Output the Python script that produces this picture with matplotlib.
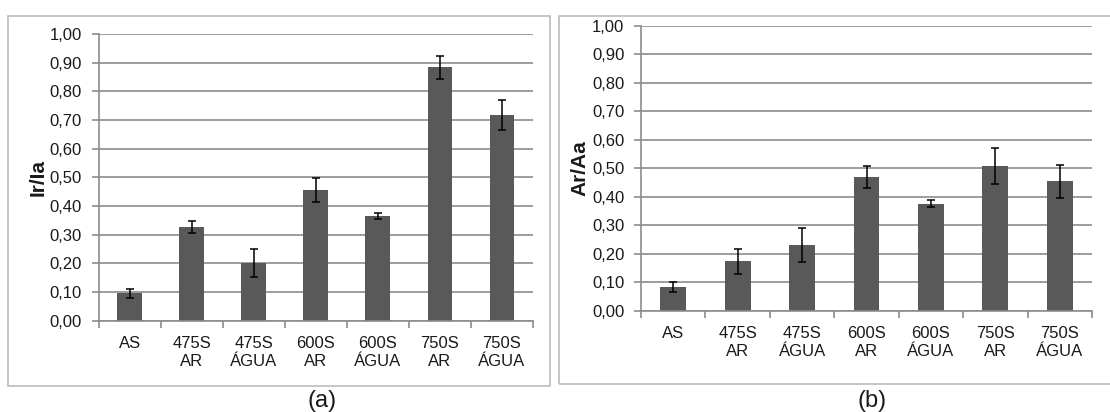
import matplotlib
matplotlib.use("Agg")
from matplotlib import pyplot as plt
from matplotlib.patches import Rectangle
from matplotlib.ticker import FuncFormatter, MultipleLocator

plt.rcParams['font.family'] = ['Liberation Sans', 'DejaVu Sans']

categories = ["AS", "475S\nAR", "475S\nÁGUA", "600S\nAR", "600S\nÁGUA", "750S\nAR", "750S\nÁGUA"]

ir_ia = [0.095, 0.328, 0.202, 0.455, 0.364, 0.884, 0.718]
ir_ia_err = [0.016, 0.021, 0.048, 0.041, 0.010, 0.040, 0.052]

ar_aa = [0.082, 0.173, 0.232, 0.471, 0.376, 0.508, 0.454]
ar_aa_err = [0.018, 0.043, 0.060, 0.039, 0.012, 0.062, 0.059]

W, H = 1110, 412
BAR = "#595959"
GRID = "#8c8c8c"
BORDER = "#bcbcbc"
TXT = "#1a1a1a"


def px_axes(fig, left, top, right, bottom):
    return fig.add_axes([left / W, 1 - bottom / H, (right - left) / W, (bottom - top) / H])


def draw_panel(ax, values, errors, ylabel, label_x):
    x = list(range(len(categories)))
    ax.bar(x, values, width=0.4, color=BAR, zorder=2)
    ax.errorbar(x, values, yerr=errors, fmt="none", ecolor="black",
                elinewidth=1.1, capsize=3, capthick=1.1, zorder=3)
    ax.set_xlim(-0.5, len(categories) - 0.5)
    ax.set_ylim(0, 1.0)
    ax.yaxis.set_major_locator(MultipleLocator(0.1))
    ax.yaxis.set_major_formatter(FuncFormatter(lambda v, p: f"{v:.2f}".replace(".", ",")))
    ax.grid(axis="y", color=GRID, linewidth=1.2, zorder=0)
    ax.set_axisbelow(True)
    for s in ("top", "right"):
        ax.spines[s].set_visible(False)
    for s in ("left", "bottom"):
        ax.spines[s].set_color(GRID)
        ax.spines[s].set_linewidth(1.2)
    # single-line labels get an empty second line so all tops line up
    labels = [c if "\n" in c else c + "\n " for c in categories]
    ax.set_xticks(x)
    ax.set_xticklabels(labels, fontsize=12, color=TXT, linespacing=1.25)
    ax.set_xticks([i - 0.5 for i in range(len(categories) + 1)], minor=True)
    ax.tick_params(axis="x", which="major", length=0, pad=11)
    ax.tick_params(axis="x", which="minor", length=5, width=1.2, color=GRID, direction="out")
    ax.tick_params(axis="y", length=5, width=1.2, color=GRID, labelsize=12, labelcolor=TXT, pad=7)
    ax.set_ylabel(ylabel, fontsize=15, fontweight="bold", color=TXT)
    ax.yaxis.label.set_verticalalignment("center")
    ax.yaxis.set_label_coords(label_x, 0.5)


fig = plt.figure(figsize=(W / 100, H / 100), dpi=100)

# panel borders
fig.patches.append(Rectangle((8 / W, 1 - 386 / H), (550 - 8) / W, (386 - 16) / H,
                             transform=fig.transFigure, fill=False, edgecolor=BORDER, linewidth=1.2))
fig.patches.append(Rectangle((559 / W, 1 - 384 / H), (1115 - 559) / W, (384 - 16) / H,
                             transform=fig.transFigure, fill=False, edgecolor=BORDER, linewidth=1.2))

ax_a = px_axes(fig, 98.7, 34, 533, 320.7)
draw_panel(ax_a, ir_ia, ir_ia_err, "Ir/Ia", -0.140)

ax_b = px_axes(fig, 641, 26, 1092, 310.7)
draw_panel(ax_b, ar_aa, ar_aa_err, "Ar/Aa", -0.135)

fig.text(322 / W, 1 - 401 / H, "(a)", ha="center", va="center", fontsize=17, color=TXT)
fig.text(872 / W, 1 - 401 / H, "(b)", ha="center", va="center", fontsize=17, color=TXT)

fig.savefig("out.png", dpi=100)
